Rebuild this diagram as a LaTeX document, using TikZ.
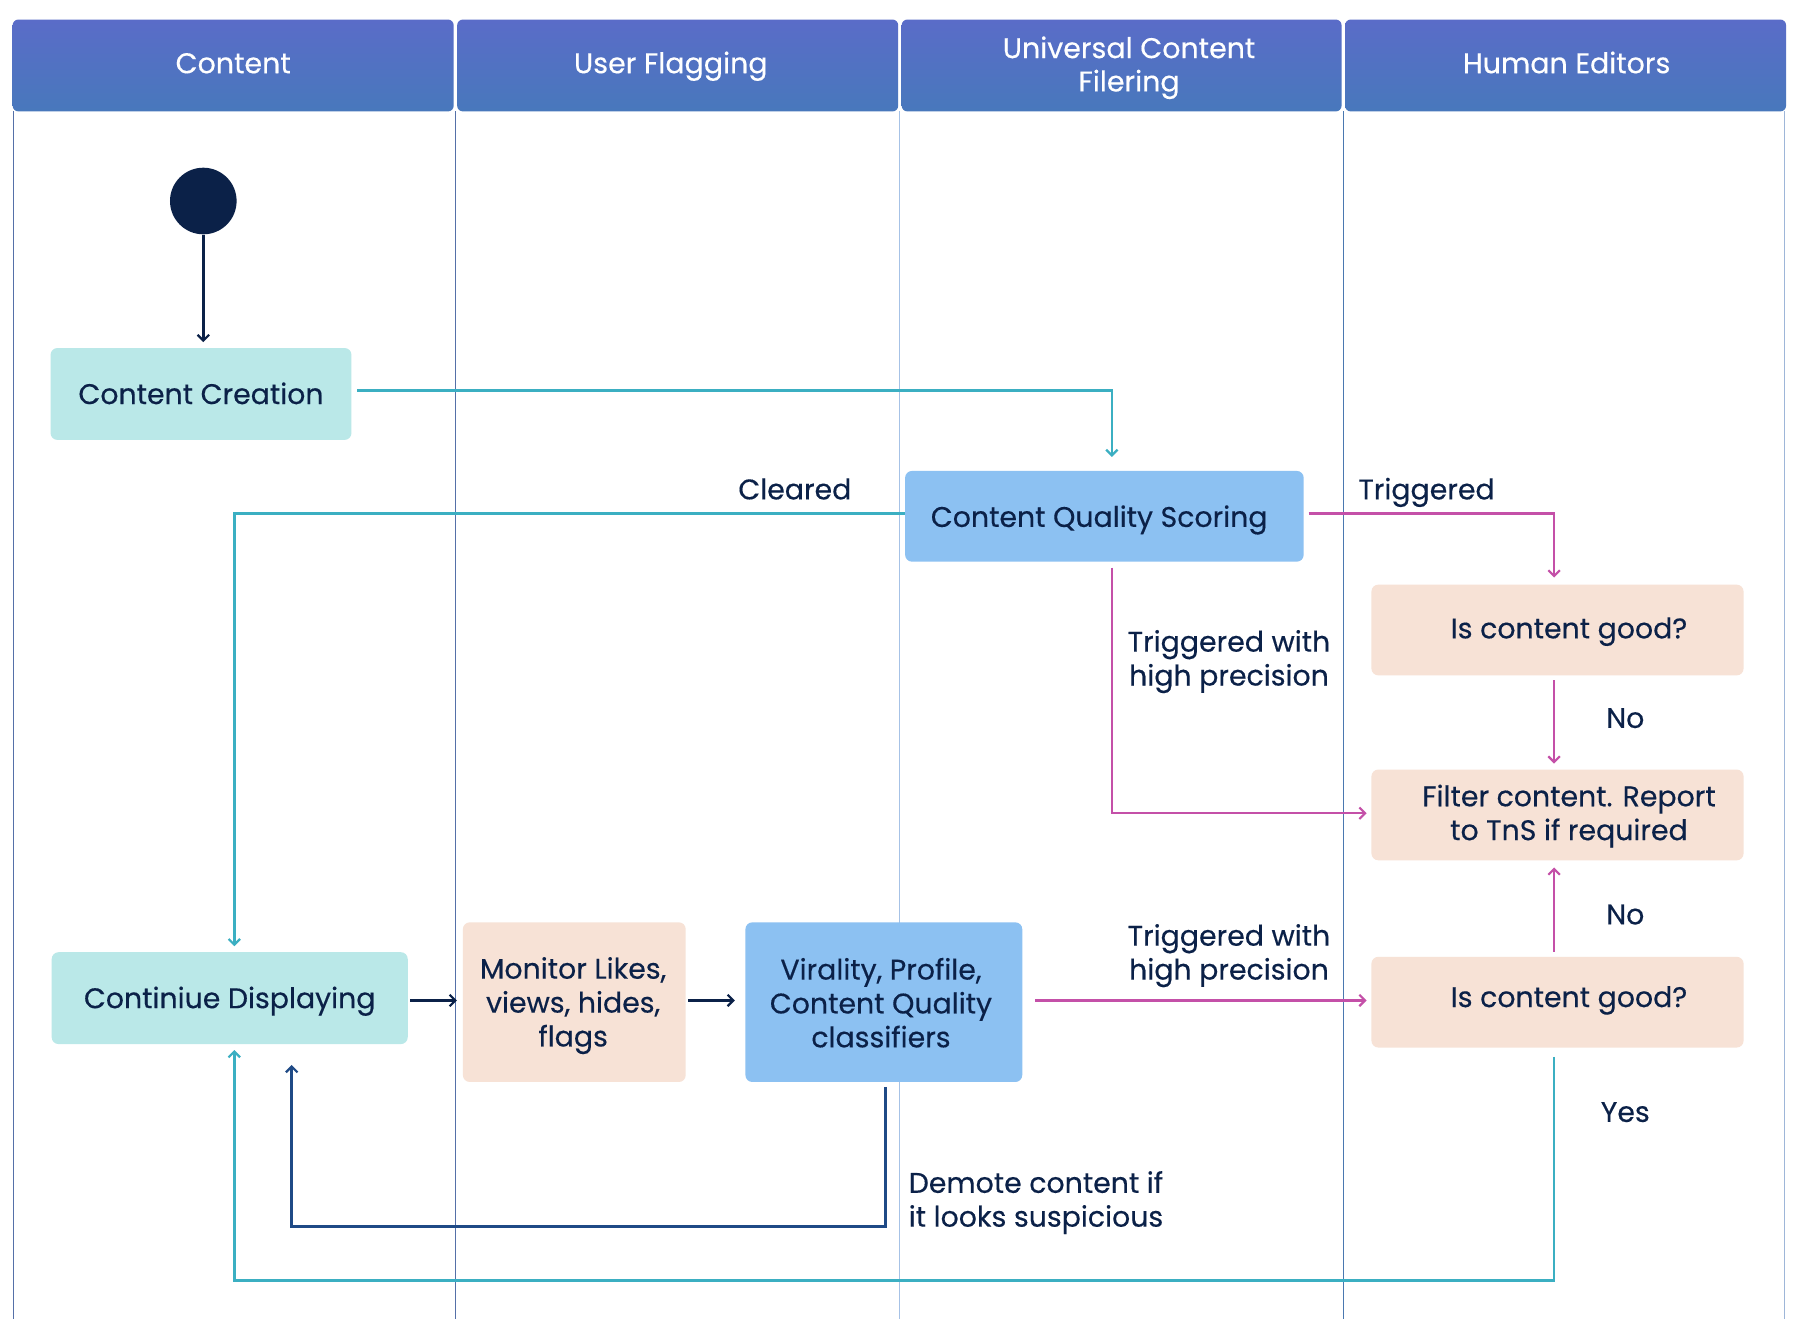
\documentclass[tikz,border=0pt]{standalone}
\usepackage{fontspec}
\setmainfont{Poppins}[FakeBold=0.35]
\usetikzlibrary{arrows.meta,calc}
\definecolor{navy}{HTML}{0B2148}
\definecolor{demote}{HTML}{1F4A86}
\definecolor{tealc}{HTML}{3BAFC2}
\definecolor{magc}{HTML}{C450A8}
\definecolor{lteal}{HTML}{BAE8E8}
\definecolor{peach}{HTML}{F7E2D6}
\definecolor{lblue}{HTML}{8CC1F2}
\definecolor{htop}{HTML}{5A6CC8}
\definecolor{hbot}{HTML}{4878BC}
\definecolor{laneA}{HTML}{5570A8}
\definecolor{laneB}{HTML}{A6C2E6}
\definecolor{laneC}{HTML}{4A78B0}
\definecolor{laneD}{HTML}{9EB6D8}
\begin{document}
\begin{tikzpicture}[x=1pt,y=-1pt,
  txt/.style={font=\fontsize{24.7}{29.5}\selectfont, text=navy, align=center},
  one/.style={text height=17.5pt, text depth=0pt},
  box/.style={txt, rounded corners=6pt, inner sep=0pt},
  hdr/.style={font=\fontsize{24.8}{29}\selectfont, text=white, align=center},
  conn/.style={line width=2.2pt, -{Straight Barb[length=5pt,width=10pt,line width=1.9pt]}},
  tealarr/.style={conn, draw=tealc},
  magarr/.style={conn, draw=magc},
  navyarr/.style={conn, draw=navy},
  demarr/.style={conn, draw=demote},
  lane/.style={line width=0.9pt}]
\useasboundingbox (0,0) rectangle (1568,1152);
\fill[white] (0,0) rectangle (1568,1152);
% headers
\foreach \a/\b in {11/395, 398/782, 785/1168, 1171/1555}{
  \shade[top color=htop, bottom color=hbot, rounded corners=5pt] (\a,17) rectangle (\b,97);
}
\node[hdr, one] (h1) at (203,55) {Content};
\node[hdr, one] (h2) at (584,55) {User Flagging};
\node[hdr] (h3) at (983,59) {Universal Content\\Filering};
\node[hdr, one] (h4) at (1364,55) {Human Editors};
% lanes
\draw[lane, draw=laneA] (11.5,97) -- (11.5,1148);
\draw[lane, draw=laneA] (396.5,97) -- (396.5,1148);
\draw[lane, draw=laneB] (783,97) -- (783,1148);
\draw[lane, draw=laneC] (1170,97) -- (1170,1148);
\draw[lane, draw=laneD] (1554,97) -- (1554,1148);
% nodes
\node[circle, fill=navy, minimum size=58pt, inner sep=0pt] (start) at (177,175) {};
\node[box, one, fill=lteal, minimum width=262pt, minimum height=80pt] (cc) at (175,343) {Content Creation};
\node[box, fill=lblue, minimum width=347pt, minimum height=79pt] (cqs) at (961.5,449.5) {};
\node[txt, one] (cqst) at (957,450) {Content Quality Scoring};
\node[box, fill=peach, minimum width=324pt, minimum height=79pt] (g1) at (1356,548.5) {};
\node[txt, one] (g1t) at (1366,547) {Is content good?};
\node[box, fill=peach, minimum width=324pt, minimum height=79pt] (filt) at (1356,709.5) {};
\node[txt] (filtt) at (1366,710.5) {Filter content. Report\\to TnS if required};
\node[box, fill=peach, minimum width=324pt, minimum height=79pt] (g2) at (1356,872.5) {};
\node[txt, one] (g2t) at (1366,868) {Is content good?};
\node[box, one, fill=lteal, minimum width=310pt, minimum height=80pt] (cd) at (200,869) {Continiue Displaying};
\node[box, fill=peach, minimum width=194pt, minimum height=139pt] (mon) at (500,872.5) {};
\node[txt] (mont) at (499,875.5) {Monitor Likes,\\views, hides,\\flags};
\node[box, fill=lblue, minimum width=241pt, minimum height=139pt] (vir) at (769.5,872.5) {};
\node[txt] (virt) at (767,873) {Virality, Profile,\\Content Quality\\classifiers};
\coordinate (d1) at (771,1068);
\coordinate (y1) at (1353,1115);
% connectors
\draw[navyarr, shorten >=5pt] (start.south) -- (start.south |- cc.north);
\draw[tealarr, shorten <=5pt, shorten >=12pt] ([yshift=3pt]cc.east) -| ([xshift=6.5pt]cqs.north);
\draw[tealarr, shorten >=5pt] ([yshift=2.5pt]cqs.west) -| ([xshift=4pt]cd.north);
\draw[magarr, shorten <=4pt, shorten >=6pt] ([yshift=2.5pt]cqs.east) -| ([xshift=-3pt]g1.north);
\draw[magarr, shorten <=4pt, shorten >=5pt] ([xshift=-3pt]g1.south) -- ([xshift=-3pt]filt.north);
\draw[magarr, shorten <=5pt, shorten >=4pt] ([xshift=6.5pt]cqs.south) |- ([yshift=1.5pt]filt.west);
\draw[magarr, shorten <=4pt, shorten >=6pt] ([xshift=-3pt]g2.north) -- ([xshift=-3pt]filt.south);
\draw[navyarr, shorten <=2pt, shorten >=5pt] ([yshift=-2pt]cd.east) -- ([yshift=1.5pt]mon.west);
\draw[navyarr, shorten <=2pt, shorten >=9pt] ([yshift=1.5pt]mon.east) -- ([yshift=1.5pt]vir.west);
\draw[magarr, shorten <=11pt, shorten >=4pt] ([yshift=1.5pt]vir.east) -- ([yshift=1.5pt]g2.west);
\draw[demarr, shorten >=18pt] ([xshift=1.5pt,yshift=-4pt]vir.south) -- (d1) -| ([xshift=54pt]cd.south);
\draw[tealarr, shorten >=5pt] ([xshift=-3pt,yshift=-8pt]g2.south) -- (y1) -| ([xshift=4pt]cd.south);
% labels
\node[txt, one] (lcleared) at (692,426) {Cleared};
\node[txt, one] (ltrig) at (1242,426) {Triggered};
\node[txt] (lthp1) at (1070,576) {Triggered with\\high precision};
\node[txt, one] (lno1) at (1415,625) {No};
\node[txt, one] (lno2) at (1415,796) {No};
\node[txt] (lthp2) at (1070,832) {Triggered with\\high precision};
\node[txt, align=left, anchor=west, inner sep=0pt] (ldem) at (791,1047) {Demote content if\\it looks suspicious};
\node[txt, one] (lyes) at (1415,968) {Yes};
\end{tikzpicture}
\end{document}
